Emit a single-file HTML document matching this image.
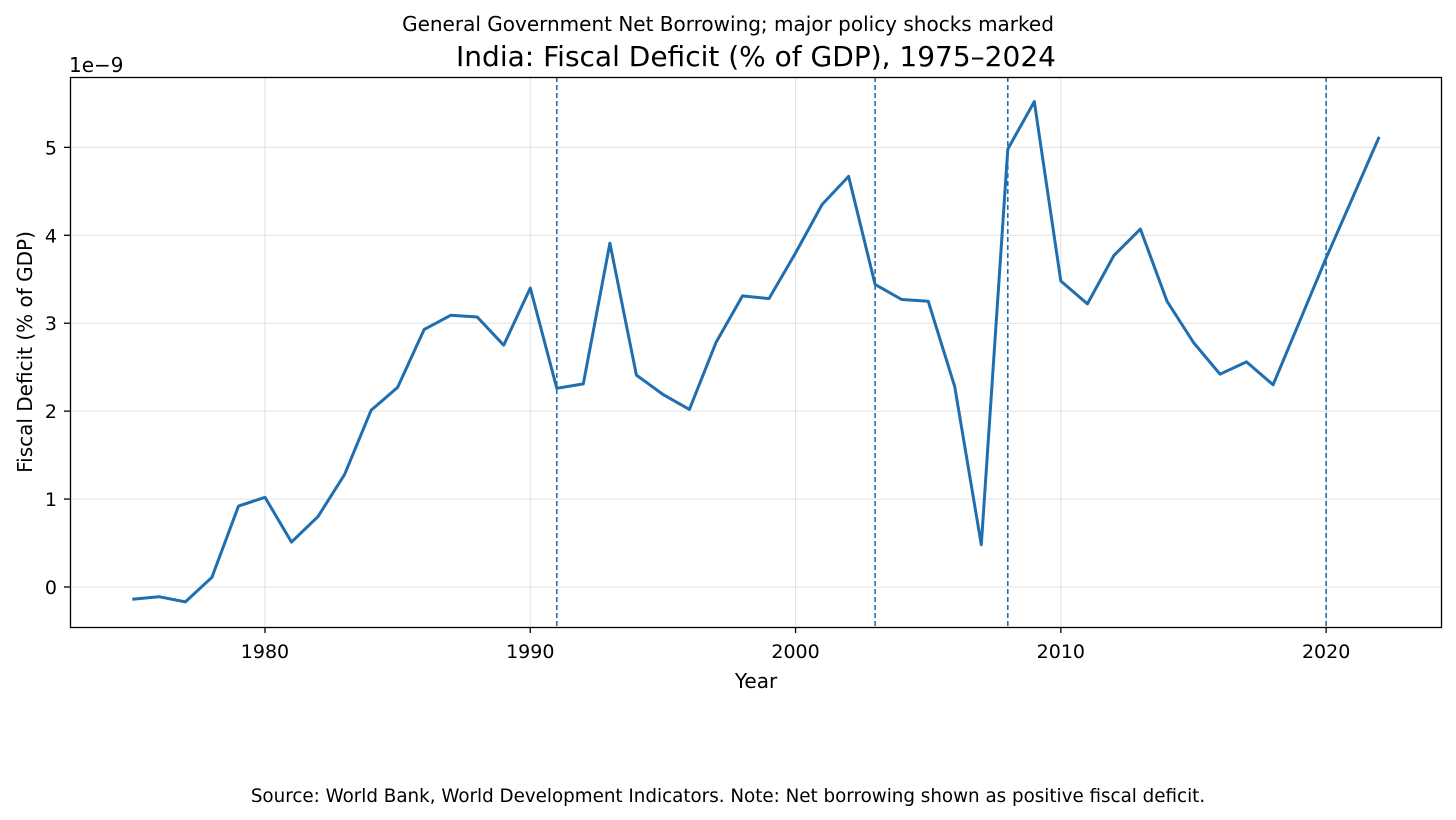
<!DOCTYPE html>
<html><head><meta charset="utf-8">
<style>
html,body{margin:0;padding:0;background:#fff;}
svg{display:block;font-family:"DejaVu Sans","Liberation Sans",sans-serif;}
</style></head>
<body>
<svg id="chart" width="1456" height="820" viewBox="0 0 1456 820">
<text x="728" y="31" text-anchor="middle" font-size="20" fill="#000">General Government Net Borrowing; major policy shocks marked</text>
<text x="756" y="66" text-anchor="middle" font-size="28" fill="#000">India: Fiscal Deficit (% of GDP), 1975–2024</text>
<text x="69" y="72" font-size="20" fill="#000">1e−9</text>
<g id="grid"></g>
<g id="vlines"></g>
<g id="ticks"></g>
<path id="line" fill="none" stroke="#1f6fb0" stroke-width="3" stroke-linejoin="round"/>
<rect x="70.5" y="77.5" width="1371" height="550" fill="none" stroke="#000" stroke-width="1.3"/>
<text x="756" y="688" text-anchor="middle" font-size="20" fill="#000">Year</text>
<text transform="translate(32,352) rotate(-90)" text-anchor="middle" font-size="20" fill="#000">Fiscal Deficit (% of GDP)</text>
<text x="728" y="802" text-anchor="middle" font-size="18.3" fill="#000">Source: World Bank, World Development Indicators. Note: Net borrowing shown as positive fiscal deficit.</text>
</svg>
<script>
const years = [1975,1976,1977,1978,1979,1980,1981,1982,1983,1984,1985,1986,1987,1988,1989,1990,1991,1992,1993,1994,1995,1996,1997,1998,1999,2000,2001,2002,2003,2004,2005,2006,2007,2008,2009,2010,2011,2012,2013,2014,2015,2016,2017,2018,2019,2020,2021,2022];
const deficit = [-0.14,-0.11,-0.17,0.11,0.92,1.02,0.51,0.80,1.28,2.01,2.27,2.93,3.09,3.07,2.75,3.40,2.26,2.31,3.91,2.41,2.19,2.02,2.78,3.31,3.28,3.80,4.35,4.67,3.44,3.27,3.25,2.28,0.48,4.98,5.52,3.48,3.22,3.77,4.07,3.25,2.78,2.42,2.56,2.30,3.02,3.74,4.43,5.12];
const shockYears = [1991,2003,2008,2020];
const xTicks = [1980,1990,2000,2010,2020];
const yTicks = [0,1,2,3,4,5];

const L=70,R=1441,T=77,B=627;
const xMin=1972.65,xMax=2024.33,yMin=-0.455,yMax=5.80;
const X=v=>L+(v-xMin)/(xMax-xMin)*(R-L);
const Y=v=>B-(v-yMin)/(yMax-yMin)*(B-T);
const NS="http://www.w3.org/2000/svg";
const mk=(tag,attrs,parent)=>{const e=document.createElementNS(NS,tag);for(const k in attrs)e.setAttribute(k,attrs[k]);parent.appendChild(e);return e;};
const grid=document.getElementById('grid'),ticks=document.getElementById('ticks'),vl=document.getElementById('vlines');
xTicks.forEach(t=>{
  const x=X(t);
  const g=mk('line',{x1:x,x2:x,y1:T,y2:B,stroke:'#e0e0e0','stroke-width':1},grid);
  
  
  const tk=mk('line',{x1:x,x2:x,y1:B,y2:B+6,stroke:'#000','stroke-width':1.3},ticks);
  
  
  const lb=mk('text',{x:x,y:B+31,'text-anchor':'middle','font-size':19,fill:'#000'},ticks);
  lb.textContent=t;
  
  
});
yTicks.forEach(t=>{
  const y=Y(t);
  const g=mk('line',{x1:L,x2:R,y1:y,y2:y,stroke:'#e0e0e0','stroke-width':1},grid);
  
  
  const tk=mk('line',{x1:L-6,x2:L,y1:y,y2:y,stroke:'#000','stroke-width':1.3},ticks);
  
  
  const lb=mk('text',{x:L-13,y:y+7,'text-anchor':'end','font-size':19,fill:'#000'},ticks);
  lb.textContent=t;
  
  
});
shockYears.forEach(s=>{
  const x=X(s);
  const l=mk('line',{x1:x,x2:x,y1:T,y2:B,stroke:'#1f6fb0','stroke-width':1.6,'stroke-dasharray':'5,3'},vl);
  
  
});
document.getElementById('line').setAttribute('d',years.map((yr,i)=>(i?'L':'M')+X(yr).toFixed(1)+','+Y(deficit[i]).toFixed(1)).join(' '));
</script>
</body></html>
